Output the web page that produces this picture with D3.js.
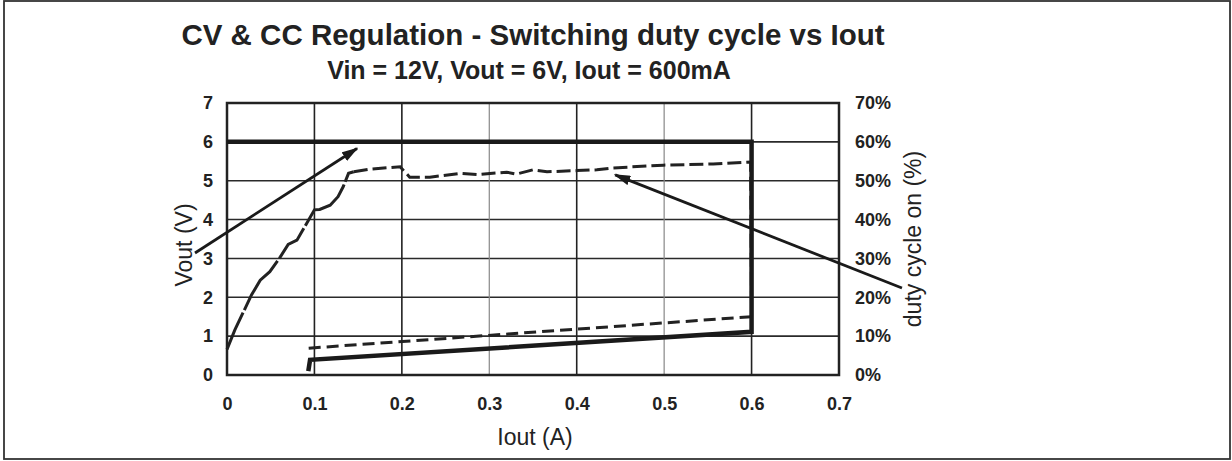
<!DOCTYPE html>
<html lang="en">
<head>
<meta charset="utf-8">
<script src="https://cdn.jsdelivr.net/npm/d3@7"></script>
<style type="text/css">
body {
	margin: 0;
	background: #fff;
	font-family: "Liberation Sans", Arial, sans-serif;
}
.tick text {
	font-weight: bold;
	font-size: 18px;
	fill: #222;
}
</style>
</head>
<body>
<script type="text/javascript">

// Vout trace (left axis, volts)
var voutCurrent = [0, 0.6, 0.6, 0.095, 0.093];
var voutVolts   = [6, 6, 1.11, 0.39, 0.1];

// duty cycle trace, rising part (right axis, %)
var riseCurrent = [0, 0.009, 0.028, 0.038, 0.049, 0.061, 0.070, 0.080, 0.089, 0.100, 0.106, 0.118, 0.127, 0.133, 0.139, 0.145];
var riseDuty    = [6.6, 11.6, 20.6, 24.4, 26.6, 30.4, 33.6, 34.7, 38.2, 42.5, 42.6, 43.7, 45.9, 48.5, 51.9, 52.3];

// duty cycle trace, flat part
var flatCurrent = [0.145, 0.164, 0.198, 0.209, 0.232, 0.267, 0.286, 0.320, 0.331, 0.350, 0.366, 0.400, 0.423, 0.442, 0.499, 0.556, 0.599, 0.6];
var flatDuty    = [52.3, 53.0, 53.6, 50.9, 50.9, 51.9, 51.6, 52.2, 51.7, 52.8, 52.3, 52.6, 52.8, 53.3, 54.0, 54.3, 54.8, 15.0];

// duty cycle trace, current limit part
var ccCurrent = [0.6, 0.093, 0.093];
var ccDuty    = [15.0, 6.9, 6.2];

// axes
var xTicks = [0, 0.1, 0.2, 0.3, 0.4, 0.5, 0.6, 0.7];
var yTicks = [0, 1, 2, 3, 4, 5, 6, 7];
var pctTicks = [0, 10, 20, 30, 40, 50, 60, 70];
var darkVertical = [0.1, 0.2, 0.4, 0.6];

// annotation arrows, in data units (x in A, y in V)
var arrowFrom = [[-0.0366, 3.14], [0.772, 2.24]];
var arrowTo   = [[0.1487, 5.83], [0.444, 5.15]];

var width = 1232;
var height = 461;
var margin = {top: 103, right: 393, bottom: 86, left: 227};
var w = width - margin.left - margin.right;
var h = height - margin.top - margin.bottom;

var svg = d3.select("body")
			.append("svg")
			.attr("width", width)
			.attr("height", height);

// outer frame
svg.append("rect")
	.attr("x", 4).attr("y", 1)
	.attr("width", 1226).attr("height", 458)
	.style("fill", "none")
	.style("stroke", "#333")
	.style("stroke-width", 1.8);

var x = d3.scaleLinear().domain([0, 0.7]).range([0, w]);
var y = d3.scaleLinear().domain([0, 7]).range([h, 0]);
var y2 = d3.scaleLinear().domain([0, 70]).range([h, 0]);

var g = svg.append("g")
		.attr("transform", "translate(" + margin.left + "," + margin.top + ")");

// grid
g.selectAll("line.hgrid")
	.data(yTicks.slice(1, -1))
	.enter()
	.append("line")
	.attr("class", "hgrid")
	.attr("x1", 0).attr("x2", w)
	.attr("y1", function(d) { return y(d); })
	.attr("y2", function(d) { return y(d); })
	.style("stroke", "#2a2a2a")
	.style("stroke-width", 1.6);

g.selectAll("line.vgrid")
	.data(xTicks.slice(1, -1))
	.enter()
	.append("line")
	.attr("class", "vgrid")
	.attr("y1", 0).attr("y2", h)
	.attr("x1", function(d) { return x(d); })
	.attr("x2", function(d) { return x(d); })
	.style("stroke", function(d) { return darkVertical.indexOf(d) >= 0 ? "#222" : "#888"; })
	.style("stroke-width", function(d) { return darkVertical.indexOf(d) >= 0 ? 1.6 : 1.2; });

g.append("rect")
	.attr("width", w).attr("height", h)
	.style("fill", "none")
	.style("stroke", "#222")
	.style("stroke-width", 2.5);

// axes (labels only)
var xAxis = g.append("g")
	.attr("transform", "translate(0," + h + ")")
	.call(d3.axisBottom(x).tickValues(xTicks).tickSize(0).tickPadding(22)
		.tickFormat(function(d) { return d === 0 ? "0" : d3.format(".1f")(d); }));

var yAxis = g.append("g")
	.call(d3.axisLeft(y).tickValues(yTicks).tickSize(0).tickPadding(14).tickFormat(d3.format("d")));

var y2Axis = g.append("g")
	.attr("transform", "translate(" + w + ",0)")
	.call(d3.axisRight(y2).tickValues(pctTicks).tickSize(0).tickPadding(16)
		.tickFormat(function(d) { return d + "%"; }));

[xAxis, yAxis, y2Axis].forEach(function(a) {
	a.select(".domain").remove();
	a.selectAll("text").style("font-family", "'Liberation Sans', Arial, sans-serif");
});

// traces
var lineV = d3.line()
	.x(function(d) { return x(d[0]); })
	.y(function(d) { return y(d[1]); });
var lineD = d3.line()
	.x(function(d) { return x(d[0]); })
	.y(function(d) { return y2(d[1]); });

g.append("path")
	.datum(d3.zip(riseCurrent, riseDuty))
	.attr("d", lineD)
	.style("fill", "none")
	.style("stroke", "#222")
	.style("stroke-width", 3)
	.style("stroke-dasharray", "40,3,60,3");

g.append("path")
	.datum(d3.zip(flatCurrent, flatDuty))
	.attr("d", lineD)
	.style("fill", "none")
	.style("stroke", "#222")
	.style("stroke-width", 3)
	.style("stroke-dasharray", "14,5");

g.append("path")
	.datum(d3.zip(ccCurrent, ccDuty))
	.attr("d", lineD)
	.style("fill", "none")
	.style("stroke", "#222")
	.style("stroke-width", 3)
	.style("stroke-dasharray", "12,6");

g.append("path")
	.datum(d3.zip(voutCurrent, voutVolts))
	.attr("d", lineV)
	.style("fill", "none")
	.style("stroke", "#1a1a1a")
	.style("stroke-width", 4.5)
	.style("stroke-linejoin", "miter");

// arrows
svg.append("defs").append("marker")
	.attr("id", "head")
	.attr("viewBox", "0 0 10 6")
	.attr("refX", 9).attr("refY", 3)
	.attr("markerWidth", 6).attr("markerHeight", 3.6)
	.attr("orient", "auto")
	.append("path")
	.attr("d", "M0,0 L10,3 L0,6 Z")
	.style("fill", "#1a1a1a");

g.selectAll("line.arrow")
	.data(d3.zip(arrowFrom, arrowTo))
	.enter()
	.append("line")
	.attr("class", "arrow")
	.attr("x1", function(d) { return x(d[0][0]); })
	.attr("y1", function(d) { return y(d[0][1]); })
	.attr("x2", function(d) { return x(d[1][0]); })
	.attr("y2", function(d) { return y(d[1][1]); })
	.style("stroke", "#1a1a1a")
	.style("stroke-width", 2.8)
	.attr("marker-end", "url(#head)");

// titles
svg.append("text")
	.attr("x", 533).attr("y", 45)
	.attr("text-anchor", "middle")
	.style("font-weight", "bold")
	.style("font-size", "29.5px")
	.style("fill", "#222")
	.text("CV & CC Regulation - Switching duty cycle vs Iout");

svg.append("text")
	.attr("x", 529).attr("y", 79)
	.attr("text-anchor", "middle")
	.style("font-weight", "bold")
	.style("font-size", "25px")
	.style("fill", "#222")
	.text("Vin = 12V, Vout = 6V, Iout = 600mA");

svg.append("text")
	.attr("x", 535).attr("y", 445)
	.attr("text-anchor", "middle")
	.style("font-size", "23px")
	.style("fill", "#222")
	.text("Iout (A)");

svg.append("text")
	.attr("transform", "translate(192,245) rotate(-90)")
	.attr("text-anchor", "middle")
	.style("font-size", "23px")
	.style("fill", "#222")
	.text("Vout (V)");

svg.append("text")
	.attr("transform", "translate(921,239) rotate(-90)")
	.attr("text-anchor", "middle")
	.style("font-size", "23px")
	.style("fill", "#222")
	.text("duty cycle on (%)");

</script>
</body>
</html>
